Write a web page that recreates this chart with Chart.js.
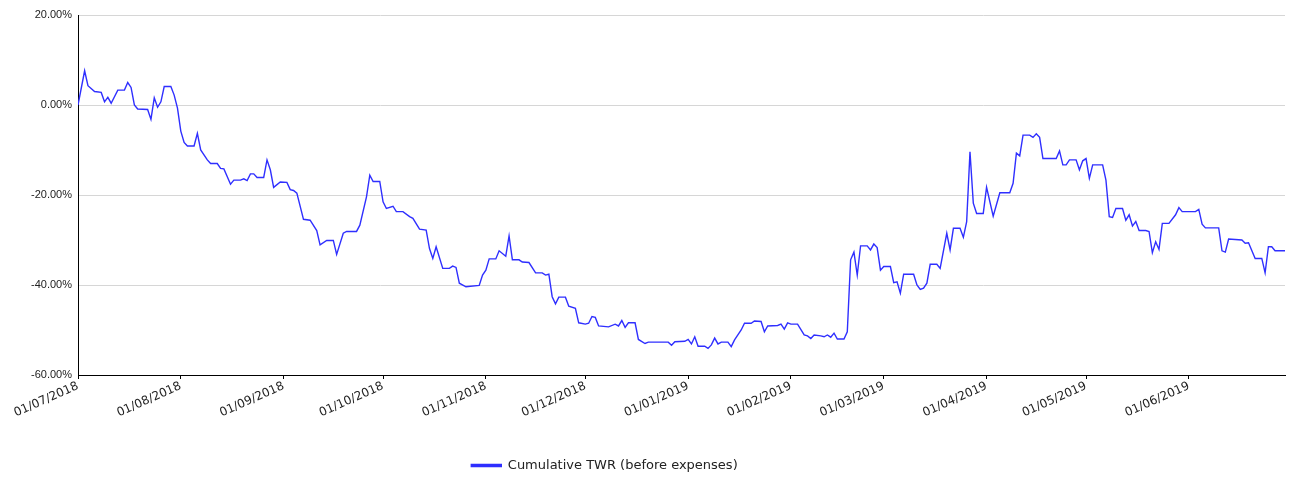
<!DOCTYPE html>
<html>
<head>
<meta charset="utf-8">
<script src="https://cdn.jsdelivr.net/npm/chart.js@4.4.0/dist/chart.umd.min.js"></script>
<style>
  html, body { margin: 0; padding: 0; background: #fff; }
</style>
</head>
<body>
<canvas id="twrChart" width="1292" height="478"></canvas>
<script>
// days since 01/07/2018 and cumulative TWR (%)
const dayOffsets = [
  0, 2, 3, 5, 7, 8, 9, 10, 12, 14, 15, 16, 17, 18, 21, 22, 23, 24, 25, 26, 28, 29, 30, 31, 32, 33, 35, 36, 37, 39,
  40, 42, 43, 44, 46, 47, 49, 50, 51, 52, 53, 54, 56, 57, 58, 59, 61, 63, 64, 65, 66, 68, 70, 72, 73, 75, 77, 78, 80, 81,
  84, 85, 87, 88, 89, 91, 92, 93, 95, 96, 98, 100, 101, 103, 105, 106, 107, 108, 110, 112, 113, 114, 115, 117, 121, 122, 123, 124, 126, 127,
  129, 130, 131, 133, 134, 136, 138, 140, 141, 142, 143, 144, 145, 147, 148, 150, 151, 153, 154, 155, 156, 157, 160, 162, 163, 164, 165, 166, 168, 169,
  171, 172, 178, 179, 180, 183, 184, 185, 186, 187, 189, 190, 191, 192, 193, 194, 196, 197, 198, 200, 201, 203, 204, 206, 207, 208, 211, 212, 213, 214,
  215, 217, 219, 220, 221, 222, 224, 225, 226, 227, 228, 229, 231, 232, 233, 234, 235, 236, 238, 239, 240, 241, 242, 243, 245, 246, 247, 248, 249, 252,
  253, 254, 255, 256, 257, 259, 260, 262, 263, 264, 266, 267, 268, 269, 270, 271, 273, 274, 276, 278, 281, 282, 283, 284, 285, 287, 288, 289, 290, 291,
  295, 296, 297, 298, 299, 301, 302, 303, 304, 305, 306, 309, 310, 311, 312, 313, 315, 316, 317, 318, 319, 320, 322, 323, 324, 325, 326, 327, 329, 331,
  332, 333, 337, 338, 339, 340, 344, 345, 346, 347, 351, 352, 353, 355, 357, 358, 359, 360, 361, 364
];
const twrValues = [
  0, 7.6, 4.3, 3.0, 2.8, 0.7, 1.7, 0.4, 3.3, 3.3, 5.0, 3.9, 0, -0.9, -1.0, -3.2, 1.6, -0.5, 0.7, 4.1, 4.1, 2.2, -0.7, -5.8, -8.3, -9.1, -9.1, -6.3, -10, -12.2,
  -13, -13, -14.1, -14.2, -17.6, -16.7, -16.7, -16.4, -16.8, -15.3, -15.3, -16.1, -16.1, -12.2, -14.4, -18.3, -17.1, -17.2, -18.8, -19, -19.6, -25.4, -25.6, -27.9, -31.1, -30.1, -30.1, -33.2, -28.5, -28.1,
  -28.1, -26.7, -20.4, -15.6, -17, -17, -21.5, -23, -22.5, -23.7, -23.7, -24.8, -25.2, -27.6, -27.8, -31.9, -34.1, -31.5, -36.3, -36.3, -35.8, -36.1, -39.6, -40.4, -40.1, -37.8, -36.7, -34.2, -34.2, -32.4,
  -33.6, -29.1, -34.4, -34.4, -34.9, -35, -37.3, -37.3, -37.8, -37.6, -42.6, -44.2, -42.7, -42.7, -44.7, -45.2, -48.4, -48.7, -48.5, -47, -47.2, -49.1, -49.3, -48.7, -49.1, -47.9, -49.4, -48.4, -48.4, -52.1,
  -53, -52.7, -52.7, -53.4, -52.6, -52.5, -52.1, -53.1, -51.5, -53.6, -53.6, -54.1, -53.3, -51.8, -53.1, -52.7, -52.7, -53.7, -52.2, -50, -48.5, -48.5, -48, -48.1, -50.4, -49.1, -49, -48.7, -49.8, -48.4,
  -48.7, -48.7, -51.1, -51.3, -51.9, -51.1, -51.3, -51.5, -51.1, -51.6, -50.7, -52, -52, -50.4, -34.4, -32.7, -37.8, -31.3, -31.3, -32.2, -30.9, -31.7, -36.7, -35.9, -35.9, -39.5, -39.3, -41.8, -37.6, -37.6,
  -40, -41, -40.7, -39.6, -35.4, -35.4, -36.3, -28.5, -32.2, -27.4, -27.4, -29.4, -25.9, -10.4, -21.8, -24.1, -24.1, -18.3, -24.7, -19.5, -19.5, -17.4, -10.7, -11.3, -6.7, -6.7, -7.2, -6.4, -7.2, -11.9,
  -11.9, -10.2, -13.3, -13.3, -12.2, -12.2, -14.4, -12.4, -11.9, -16.3, -13.3, -13.3, -16.7, -24.8, -25, -23, -23, -25.6, -24.4, -26.9, -25.9, -27.9, -27.9, -28.1, -32.8, -30.4, -32.1, -26.3, -26.3, -24.4,
  -22.8, -23.7, -23.7, -23.2, -26.5, -27.3, -27.3, -32.4, -32.7, -29.8, -30, -30.7, -30.6, -34.1, -34.1, -37.3, -31.5, -31.5, -32.4, -32.4
];

// month starts on the x axis
const tickDays = [0, 31, 62, 92, 123, 153, 184, 215, 243, 274, 304, 335];
const tickLabels = ['01/07/2018', '01/08/2018', '01/09/2018', '01/10/2018', '01/11/2018', '01/12/2018',
  '01/01/2019', '01/02/2019', '01/03/2019', '01/04/2019', '01/05/2019', '01/06/2019'];
const yTicks = [20, 0, -20, -40, -60];

const points = dayOffsets.map((d, i) => ({ x: d, y: twrValues[i] }));

// legend sits a bit left of centre and lower in the original
const legendShift = {
    id: 'legendShift',
    afterLayout(chart) {
        const lg = chart.legend;
        lg.left -= 38; lg.right -= 38;
        lg.top += 4; lg.bottom += 4;
    }
};

new Chart(document.getElementById('twrChart'), {
    type: 'line',
    data: {
        datasets: [{
            label: 'Cumulative TWR (before expenses)',
            data: points,
            borderColor: '#2f2fff',
            backgroundColor: '#2f2fff',
            borderWidth: 1.4,
            pointRadius: 0,
            tension: 0,
            fill: false
        }]
    },
    options: {
        responsive: false,
        animation: false,
        layout: { padding: { top: 15, right: 7, left: 0, bottom: 0 } },
        plugins: {
            tooltip: { enabled: false },
            legend: {
                position: 'bottom',
                labels: {
                    color: '#222',
                    font: { family: 'DejaVu Sans', size: 13 },
                    boxWidth: 30,
                    boxHeight: 2,
                    padding: 10
                }
            }
        },
        scales: {
            x: {
                type: 'linear',
                min: 0,
                max: 364,
                afterBuildTicks: s => { s.ticks = tickDays.map(v => ({ value: v })); },
                afterFit: s => { s.height = 70; },
                grid: { display: true, drawOnChartArea: false, color: '#000', tickLength: 4 },
                border: { color: '#000', width: 1 },
                ticks: {
                    autoSkip: false,
                    minRotation: 24,
                    maxRotation: 24,
                    padding: 0,
                    color: '#222',
                    font: { family: 'DejaVu Sans', size: 12 },
                    callback: v => tickLabels[tickDays.indexOf(v)]
                }
            },
            y: {
                min: -60,
                max: 20,
                afterBuildTicks: s => { s.ticks = yTicks.map(v => ({ value: v })); },
                afterFit: s => { s.width = 78; },
                grid: { color: '#d6d6d6', drawTicks: false },
                border: { color: '#000', width: 1 },
                ticks: {
                    padding: 6,
                    color: '#222',
                    font: { family: 'Liberation Sans', size: 11 },
                    callback: v => v.toFixed(2) + '%'
                }
            }
        }
    },
    plugins: [legendShift]
});
</script>
</body>
</html>
